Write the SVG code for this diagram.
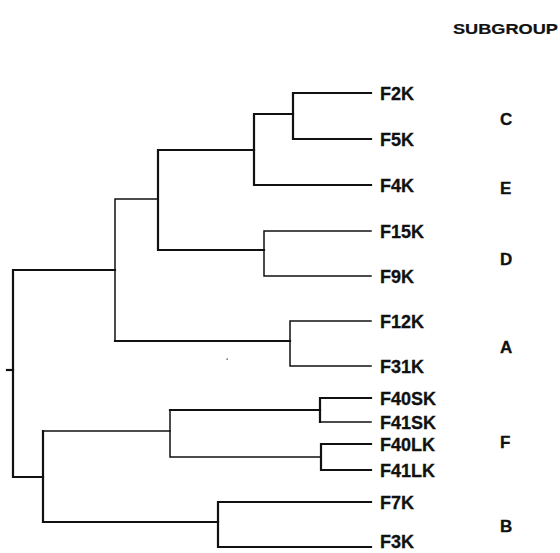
<svg xmlns="http://www.w3.org/2000/svg" width="560" height="553" viewBox="0 0 560 553">
<style>
.bg{fill:#fff}
.thick{fill:none;stroke:#111;stroke-width:2.2;stroke-linejoin:miter;stroke-linecap:square}
.thin{fill:none;stroke:#111;stroke-width:1.5;stroke-linejoin:miter;stroke-linecap:square}
.leaf{font-family:"Liberation Sans",Arial,sans-serif;font-weight:bold;font-size:18px;fill:#111;stroke:#111;stroke-width:0.3}
.sub{font-family:"Liberation Sans",Arial,sans-serif;font-weight:bold;font-size:17px;fill:#111;stroke:#111;stroke-width:0.3}
.head{font-family:"Liberation Sans",Arial,sans-serif;font-weight:bold;font-size:14px;fill:#111;stroke:#111;stroke-width:0.2}
</style>
<rect class="bg" x="0" y="0" width="560" height="553"/>
<g id="connectors">
  <path class="thick" d="M371,93 H293 V139 H371"/>
  <path class="thick" d="M293,114 H254 V185 H371"/>
  <path class="thick" d="M254,150 H158 V250 H264"/>
  <path class="thin" d="M371,231 H264 V276 H371"/>
  <path class="thin" d="M158,199 H115 V341"/>
  <path class="thick" d="M115,341 H290"/>
  <path class="thin" d="M371,321 H290 V366 H371"/>
  <path class="thick" d="M115,270 H13 V477 H43"/>
  <path class="thick" d="M7,370 H13"/>
  <path class="thick" d="M43,431 V522 H218"/>
  <path class="thin" d="M43,431 H170 V457 H321"/>
  <path class="thin" d="M170,431 V410"/>
  <path class="thick" d="M170,410 H320"/>
  <path class="thick" d="M371,398 H320 V422"/>
  <path class="thin" d="M320,422 H371"/>
  <path class="thick" d="M371,444 H321 V470 H371"/>
  <path class="thick" d="M371,502 H218 V547 H371"/>
  <rect x="226.5" y="358.5" width="1.2" height="1.2" fill="#111"/>
</g>
<g id="header"><text class="head" x="453" y="34" textLength="105" lengthAdjust="spacingAndGlyphs">SUBGROUP</text></g>
<g id="leaf-F2K"><text class="leaf" x="380" y="100">F2K</text></g>
<g id="leaf-F5K"><text class="leaf" x="380" y="146">F5K</text></g>
<g id="leaf-F4K"><text class="leaf" x="380" y="192">F4K</text></g>
<g id="leaf-F15K"><text class="leaf" x="380" y="238">F15K</text></g>
<g id="leaf-F9K"><text class="leaf" x="380" y="283">F9K</text></g>
<g id="leaf-F12K"><text class="leaf" x="380" y="328">F12K</text></g>
<g id="leaf-F31K"><text class="leaf" x="380" y="373">F31K</text></g>
<g id="leaf-F40SK"><text class="leaf" x="380" y="405">F40SK</text></g>
<g id="leaf-F41SK"><text class="leaf" x="380" y="429">F41SK</text></g>
<g id="leaf-F40LK"><text class="leaf" x="380" y="451">F40LK</text></g>
<g id="leaf-F41LK"><text class="leaf" x="380" y="477">F41LK</text></g>
<g id="leaf-F7K"><text class="leaf" x="380" y="509">F7K</text></g>
<g id="leaf-F3K"><text class="leaf" x="380" y="548">F3K</text></g>
<g id="sub-C"><text class="sub" x="500" y="125">C</text></g>
<g id="sub-E"><text class="sub" x="500" y="194">E</text></g>
<g id="sub-D"><text class="sub" x="500" y="265">D</text></g>
<g id="sub-A"><text class="sub" x="500" y="353">A</text></g>
<g id="sub-F"><text class="sub" x="500" y="448">F</text></g>
<g id="sub-B"><text class="sub" x="500" y="532">B</text></g>
</svg>
